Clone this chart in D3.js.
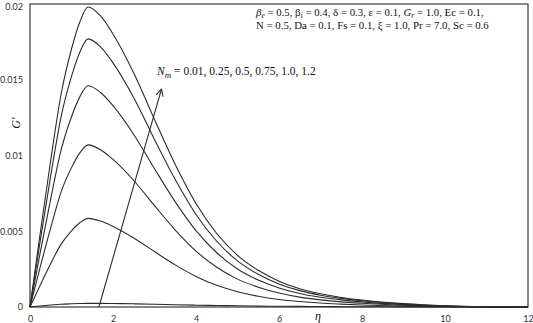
<!DOCTYPE html>
<html>
<head>
<meta charset="utf-8">
<script src="https://cdn.jsdelivr.net/npm/d3@7"></script>
<style>
  html, body { margin: 0; padding: 0; background: #fff; }
  svg { display: block; }
</style>
</head>
<body>
<svg id="chart" width="533" height="323"></svg>
<script>
// Similarity variable eta (shared grid for every profile)
const eta = [0, 0.25, 0.5, 0.75, 1.0, 1.2, 1.4, 1.7, 2.0, 2.5, 3.0, 3.5, 4.0, 4.5, 5.0, 5.5, 6.0, 6.5, 7.0, 7.5, 8.0, 9.0, 10.0, 11.0, 12.0];

// G' profiles for each magnetic parameter N_m
const nmValues = [0.01, 0.25, 0.5, 0.75, 1.0, 1.2];
const gNm001 = [0, 0.00007, 0.00013, 0.00018, 0.00021, 0.00023, 0.00024, 0.00024, 0.00023, 0.00021, 0.00018, 0.00015, 0.00012, 0.0001, 0.00008, 0.00006, 0.00005, 0.00004, 0.00003, 0.00002, 0.00002, 0.00001, 0, 0, 0];
const gNm025 = [0, 0.00146, 0.00287, 0.00415, 0.00503, 0.00556, 0.00585, 0.00567, 0.00532, 0.00456, 0.00366, 0.00278, 0.00202, 0.00143, 0.00101, 0.00071, 0.0005, 0.00036, 0.00026, 0.00019, 0.00013, 0.00006, 0.00002, 0.00001, 0];
const gNm050 = [0, 0.00268, 0.00524, 0.0076, 0.0092, 0.01017, 0.0107, 0.01038, 0.00974, 0.00835, 0.00669, 0.00508, 0.00369, 0.00262, 0.00184, 0.00131, 0.00092, 0.00065, 0.00047, 0.00034, 0.00025, 0.00012, 0.00004, 0.00001, 0];
const gNm075 = [0, 0.00365, 0.00715, 0.01037, 0.01256, 0.01387, 0.0146, 0.01416, 0.01329, 0.01139, 0.00913, 0.00694, 0.00504, 0.00358, 0.00251, 0.00178, 0.00126, 0.00089, 0.00064, 0.00047, 0.00034, 0.00016, 0.00006, 0.00001, 0];
const gNm100 = [0, 0.00443, 0.00867, 0.01257, 0.01522, 0.01682, 0.0177, 0.01717, 0.01611, 0.01381, 0.01106, 0.00841, 0.00611, 0.00434, 0.00304, 0.00216, 0.00152, 0.00108, 0.00078, 0.00057, 0.00041, 0.00019, 0.00007, 0.00002, 0];
const gNm120 = [0, 0.00495, 0.0097, 0.01406, 0.01703, 0.01881, 0.0198, 0.01921, 0.01802, 0.01544, 0.01238, 0.0094, 0.00683, 0.00485, 0.00341, 0.00242, 0.0017, 0.00121, 0.00087, 0.00063, 0.00046, 0.00022, 0.00008, 0.00002, 0];
const profiles = [gNm001, gNm025, gNm050, gNm075, gNm100, gNm120];

// Axis ticks
const xTicks = [0, 2, 4, 6, 8, 10, 12];
const yTicks = [0, 0.005, 0.01, 0.015, 0.02];
const yTickLabels = ["0", "0.005", "0.01", "0.015", "0.02"];

// Direction arrow for increasing N_m (data coordinates: [eta, G'])
const arrowFrom = [1.66, 0];
const arrowTo = [3.17, 0.0144];

const svg = d3.select("#chart");
const x = d3.scaleLinear().domain([0, 12]).range([30, 528]);
const y = d3.scaleLinear().domain([0, 0.02]).range([307, 4]);

const tickFont = "Lato, 'Open Sans', sans-serif";
const serif = "'Liberation Serif', 'DejaVu Serif', serif";

// Plot frame
svg.append("rect")
  .attr("x", x(0)).attr("y", y(0.02))
  .attr("width", x(12) - x(0)).attr("height", y(0) - y(0.02))
  .attr("fill", "none").attr("stroke", "#3a3a3a").attr("stroke-width", 1.2);

// Axes (labels only, frame drawn above)
const xAxis = svg.append("g").attr("transform", `translate(0,${y(0)})`)
  .call(d3.axisBottom(x).tickValues(xTicks).tickSize(0).tickPadding(9).tickFormat(d3.format("d")));
const yAxis = svg.append("g").attr("transform", `translate(${x(0)},0)`)
  .call(d3.axisLeft(y).tickValues(yTicks).tickSize(0).tickPadding(7).tickFormat((d, i) => yTickLabels[i]));
[xAxis, yAxis].forEach(g => {
  g.select(".domain").remove();
  g.selectAll("text").attr("font-family", tickFont).attr("font-size", 9).attr("fill", "#333");
});
// keep the top label inside the canvas
yAxis.selectAll(".tick").filter(d => d === 0.02).select("text").attr("dy", "0.6em");

// Profiles
const line = d3.line()
  .x((d, i) => x(eta[i]))
  .y(d => y(d))
  .curve(d3.curveMonotoneX);
svg.append("g").selectAll("path").data(profiles).join("path")
  .attr("d", line)
  .attr("fill", "none")
  .attr("stroke", "#2b2b2b")
  .attr("stroke-width", 1.1);

// Arrow
const ax0 = x(arrowFrom[0]), ay0 = y(arrowFrom[1]);
const ax1 = x(arrowTo[0]), ay1 = y(arrowTo[1]);
svg.append("line")
  .attr("x1", ax0).attr("y1", ay0).attr("x2", ax1).attr("y2", ay1)
  .attr("stroke", "#2b2b2b").attr("stroke-width", 1.1);
const ang = Math.atan2(ay1 - ay0, ax1 - ax0);
const headLen = 8, headAng = Math.PI / 7;
[ang + Math.PI - headAng, ang + Math.PI + headAng].forEach(a => {
  svg.append("line")
    .attr("x1", ax1).attr("y1", ay1)
    .attr("x2", ax1 + headLen * Math.cos(a)).attr("y2", ay1 + headLen * Math.sin(a))
    .attr("stroke", "#2b2b2b").attr("stroke-width", 1.1);
});

// N_m annotation
const nmText = svg.append("text")
  .attr("x", 157).attr("y", 75)
  .attr("font-family", serif).attr("font-size", 11.5).attr("fill", "#111");
nmText.append("tspan").attr("font-style", "italic").text("N");
nmText.append("tspan").attr("font-style", "italic").attr("font-size", 9).attr("dy", 2.5).text("m");
nmText.append("tspan").attr("dy", -2.5).text(" = " + nmValues.map(v => v === 1 ? "1.0" : String(v)).join(", "));

// Parameter block
const p1 = svg.append("text").attr("x", 256).attr("y", 16)
  .attr("font-family", serif).attr("font-size", 10.8).attr("fill", "#111");
p1.append("tspan").attr("font-style", "italic").text("β");
p1.append("tspan").attr("font-style", "italic").attr("font-size", 7.5).attr("dy", 1.5).text("e");
p1.append("tspan").attr("dy", -1.5).text(" = 0.5, β");
p1.append("tspan").attr("font-size", 7.5).attr("dy", 1.5).text("i");
p1.append("tspan").attr("dy", -1.5).text(" = 0.4, δ = 0.3, ε = 0.1, ");
p1.append("tspan").attr("font-style", "italic").text("G");
p1.append("tspan").attr("font-style", "italic").attr("font-size", 7.5).attr("dy", 1.5).text("r");
p1.append("tspan").attr("dy", -1.5).text(" = 1.0, Ec = 0.1,");

svg.append("text").attr("x", 256).attr("y", 28.5)
  .attr("font-family", serif).attr("font-size", 10.8).attr("fill", "#111")
  .text("N = 0.5, Da = 0.1, Fs = 0.1, ξ = 1.0, Pr = 7.0, Sc = 0.6");

// Axis titles
svg.append("text").attr("x", 318).attr("y", 320)
  .attr("text-anchor", "middle")
  .attr("font-family", serif).attr("font-style", "italic").attr("font-size", 12).attr("fill", "#111")
  .text("η");
svg.append("text")
  .attr("transform", "translate(20,123) rotate(-90)")
  .attr("text-anchor", "middle")
  .attr("font-family", serif).attr("font-style", "italic").attr("font-size", 12).attr("fill", "#111")
  .text("G′");
</script>
</body>
</html>
